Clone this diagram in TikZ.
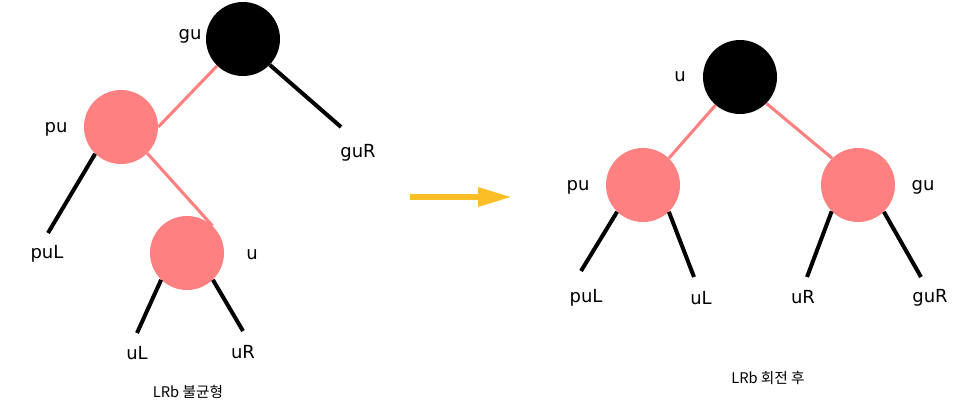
\documentclass[tikz,border=0pt]{standalone}
\usepackage{fontspec}
\setmainfont{DejaVu Sans}
\newfontfamily\kofont{Noto Sans CJK KR}
\usepackage{tikz}
\usetikzlibrary{arrows.meta}
\definecolor{salmon}{RGB}{255,128,128}
\definecolor{arrowyellow}{RGB}{252,190,38}

\begin{document}
\begin{tikzpicture}[
  rbnode/.style = {
    circle,
    minimum size = 55.5pt,
    inner sep = 0pt
  },
  rednode/.style = {
    rbnode,
    fill = salmon
  },
  blacknode/.style = {
    rbnode,
    fill = black
  },
  treetext/.style = {
    inner sep = 0pt,
    font = \fontsize{13.5}{15}\selectfont
  },
  captiontext/.style = {
    inner sep = 0pt,
    font = \kofont\fontsize{11}{13}\selectfont
  },
  redlink/.style = {
    salmon,
    line width = 2.3pt
  },
  blacklink/.style = {
    black,
    line width = 3pt
  },
  x = 0.75pt, y = -0.75pt,
  ]
  \useasboundingbox (0, 0) rectangle (973, 405);

  % Nodes left tree (before rotation).
  \node[blacknode] (L-gu) at (243, 39) {};
  \node[rednode] (L-pu) at (121, 127) {};
  \node[rednode] (L-u) at (187, 253) {};
  % Texts left tree.
  \foreach \name/\x/\y in {gu/190/36, pu/56/129, u/252/255, guR/358/153,
                           puL/47/254, uL/137/353, uR/243/352} {
    \node[treetext] (L-\name-text) at (\x, \y) {\name};
  }
  % Free ends left tree.
  \foreach \name/\x/\y in {guR/341/127, puL/48/233, uL/137/333, uR/243/331} {
    \coordinate (L-\name-end) at (\x, \y);
  }
  % Links left tree.
  \draw[redlink] (L-gu.226) -- (L-pu.0);
  \draw[redlink] (L-pu.315) -- (L-u.47);
  \draw[blacklink] (L-gu.316) -- (L-guR-end);
  \draw[blacklink] (L-pu.226) -- (L-puL-end);
  \draw[blacklink] (L-u.226) -- (L-uL-end);
  \draw[blacklink] (L-u.314) -- (L-uR-end);
  \node[captiontext] (L-caption) at (188, 392) {LRb 불균형};

  % Rotation arrow.
  \coordinate (arrow-start) at (410, 197);
  \coordinate (arrow-end) at (512, 197);
  \draw[-{Triangle[length=25.5pt, width=13.5pt]}, arrowyellow, line width=4.5pt]
    (arrow-start) -- (arrow-end);

  % Nodes right tree (after rotation).
  \node[blacknode] (R-u) at (740, 77) {};
  \node[rednode] (R-pu) at (643, 185) {};
  \node[rednode] (R-gu) at (858, 185) {};
  % Texts right tree.
  \foreach \name/\x/\y in {u/680/77, pu/578/187, gu/923/187, puL/586/298,
                           uL/701/298, uR/803/297, guR/930/298} {
    \node[treetext] (R-\name-text) at (\x, \y) {\name};
  }
  % Free ends right tree.
  \foreach \name/\x/\y in {puL/581/271, uL/694/277, uR/807/277, guR/921/277} {
    \coordinate (R-\name-end) at (\x, \y);
  }
  % Links right tree.
  \draw[redlink] (R-u.229) -- (R-pu.46);
  \draw[redlink] (R-u.315) -- (R-gu.134);
  \draw[blacklink] (R-pu.226) -- (R-puL-end);
  \draw[blacklink] (R-pu.314) -- (R-uL-end);
  \draw[blacklink] (R-gu.225) -- (R-uR-end);
  \draw[blacklink] (R-gu.314) -- (R-guR-end);
  \node[captiontext] (R-caption) at (768, 378) {LRb 회전 후};
\end{tikzpicture}
\end{document}
